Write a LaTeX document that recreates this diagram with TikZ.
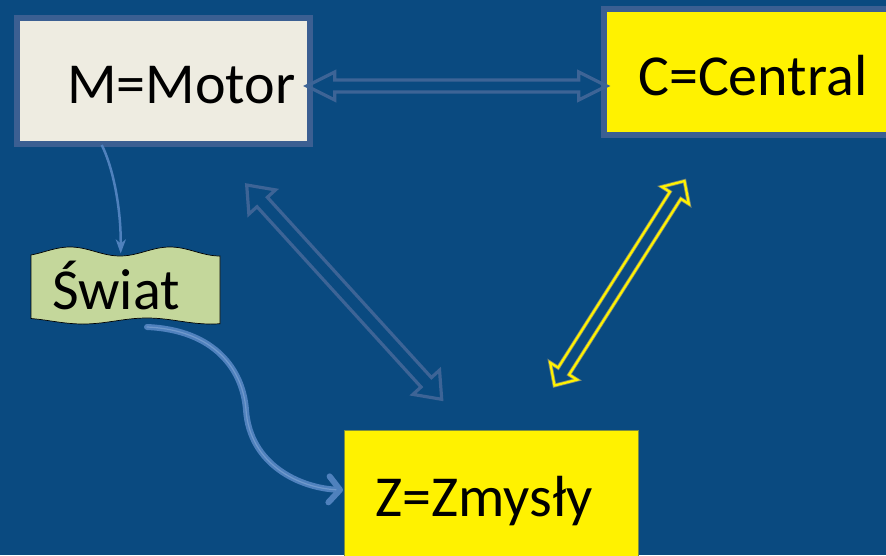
\documentclass[tikz,border=0pt]{standalone}
\usepackage{fontspec}
\setmainfont{Carlito}
\usetikzlibrary{calc,arrows.meta}
\definecolor{bgblue}{HTML}{0A4A80}
\definecolor{boxborder}{HTML}{3B5F92}
\definecolor{cream}{HTML}{EEECE1}
\definecolor{arrblue}{HTML}{3D6496}
\definecolor{curveblue}{HTML}{4F81BD}
\definecolor{curvelight}{HTML}{7099CC}
\definecolor{swiatgreen}{HTML}{C4D79B}
\definecolor{zborder}{HTML}{7F8F3F}
\newcommand\hollowarrow[7]{%
  \coordinate (#7a) at ($(#2)!#4!(#3)$);
  \coordinate (#7b) at ($(#3)!#4!(#2)$);
  \draw[#1] (#2) -- ($(#7a)!#5!90:(#3)$) -- ($(#7a)!#6!90:(#3)$)
    -- ($(#7b)!#6!-90:(#2)$) -- ($(#7b)!#5!-90:(#2)$) -- (#3)
    -- ($(#7b)!#5!90:(#2)$) -- ($(#7b)!#6!90:(#2)$)
    -- ($(#7a)!#6!-90:(#3)$) -- ($(#7a)!#5!-90:(#3)$) -- cycle;}
\tikzset{
  lbl/.style={font=\fontsize{58}{60}\selectfont, text=black, inner sep=0pt, anchor=base west},
  mbox/.style={draw=boxborder, line width=6pt, fill=cream, inner sep=0pt},
  cbox/.style={draw=boxborder, line width=6pt, fill=yellow, inner sep=0pt},
  zbox/.style={draw=zborder, line width=0.8pt, fill=yellow, inner sep=0pt},
  bluearrow/.style={draw=arrblue, line width=3.2pt, line join=miter},
  yelarrow/.style={draw=yellow, line width=2.2pt, line join=miter},
  yelglow/.style={draw=yellow!35!bgblue, line width=3.8pt, line join=miter},
}
\begin{document}
\begin{tikzpicture}[x=1pt,y=-1pt]
\useasboundingbox (0,0) rectangle (886,555);
\clip (0,0) rectangle (886,555);
\fill[bgblue] (0,0) rectangle (886,555);

% boxes
\node[mbox, minimum width=292.7pt, minimum height=126.2pt] (M) at (163.35,81.1) {};
\node[cbox, minimum width=296pt, minimum height=126pt] (C) at (752.2,71.5) {};
\node[zbox, minimum width=294.3pt, minimum height=140pt] (Z) at (491.15,500) {};

% Swiat wave shape
\fill[swiatgreen] plot[domain=31:220,samples=60] (\x,{251.5+4.5*cos(3.6*(\x-120))})
  -- plot[domain=220:31,samples=60] (\x,{321+3*cos(2.8125*(\x-83))}) -- cycle;
\draw[black, line width=0.7pt] plot[domain=31:220,samples=60] (\x,{251.5+4.5*cos(3.6*(\x-120))})
  -- plot[domain=220:31,samples=60] (\x,{321+3*cos(2.8125*(\x-83))}) -- cycle;

% texts
\node[lbl] (Mt) at (67,103.3) {M=Motor};
\node[lbl] (Ct) at (638,95) {C=Central};
\node[lbl] (St) at (52,309) {Świat};
\node[lbl] (Zt) at (375,516.7) {Z=Zmysły};

% connector end points
\coordinate (mc1) at (306.7,86);
\coordinate (mc2) at (606.7,86);
\coordinate (mz1) at (246.7,185);
\coordinate (mz2) at (441.7,399.3);
\coordinate (cz1) at (554.5,385.5);
\coordinate (cz2) at (684.5,181);
\coordinate (ms1) at (101.7,145);
\coordinate (ms2) at (120.7,253.5);
\coordinate (sz1) at (147,327);
\coordinate (sz2) at (343,490);

% hollow double arrows
\hollowarrow{bluearrow}{mc1}{mc2}{28pt}{14pt}{6pt}{hA}
\hollowarrow{bluearrow}{mz1}{mz2}{23pt}{18pt}{7pt}{dA}
\hollowarrow{yelglow}{cz1}{cz2}{17pt}{16pt}{6.5pt}{gA}
\hollowarrow{yelarrow}{cz1}{cz2}{17pt}{16pt}{6.5pt}{yA}

% curved arrows
\draw[curveblue, line width=2.5pt, -{Stealth[length=14pt,width=10pt,inset=4pt]}]
  (ms1) .. controls (112,165) and (121,205) .. (ms2);
\draw[curveblue, line width=6pt, line cap=round, -{Straight Barb[length=11pt,width=26pt,round]}]
  (sz1) .. controls (215,330) and (243,370) .. (246,410) .. controls (250,465) and (300,488) .. (sz2);
\draw[curvelight, line width=1.2pt, line cap=round]
  (sz1) .. controls (215,330) and (243,370) .. (246,410) .. controls (250,465) and (300,488) .. (336,489.7);
\end{tikzpicture}
\end{document}
